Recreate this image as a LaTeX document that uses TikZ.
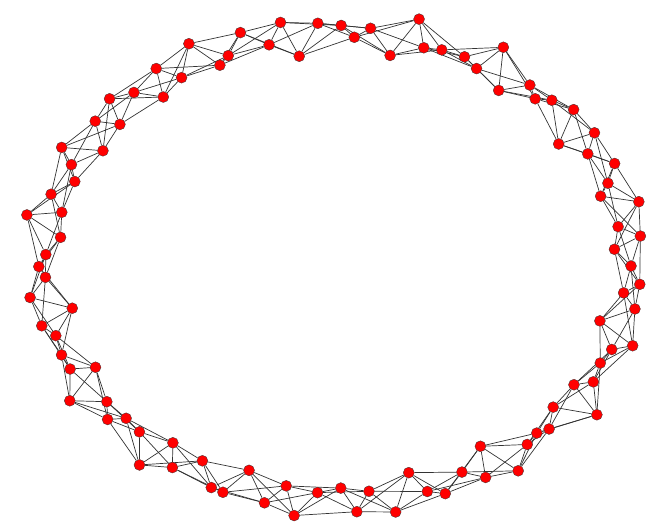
\documentclass[tikz,border=0pt]{standalone}
\usepackage{tikz}
\usetikzlibrary{backgrounds}

\begin{document}
\begin{tikzpicture}[
        x=1pt, y=-1pt,
        vert/.style = {circle, draw=black!80, line width=0.3pt, fill=red, minimum size=11pt, inner sep=0pt},
        link/.style = {black!80, line width=0.7pt}
    ]
        \useasboundingbox (0,0) rectangle (660,531);
        % nodes on a noisy ring
        \foreach \i in {0,...,99}{
            \pgfmathsetmacro\ang{\i*3.6+0.8*sin(\i*97)}
            \pgfmathsetmacro\dep{23+16*sin(\i*151)+8*sin(\i*83)}
            \node[vert] (n\i) at ({337+(317-\dep)*cos(\ang)},{266-(257-\dep)*sin(\ang)}) {};
        }
        % ring lattice, three neighbours each side
        \begin{scope}[on background layer]
            \foreach \i in {0,...,99}{
                \foreach \k in {1,2,3}{
                    \pgfmathtruncatemacro\j{mod(\i+\k,100)}
                    \draw[link] (n\i) -- (n\j);
                }
            }
        \end{scope}
    \end{tikzpicture}
\end{document}
